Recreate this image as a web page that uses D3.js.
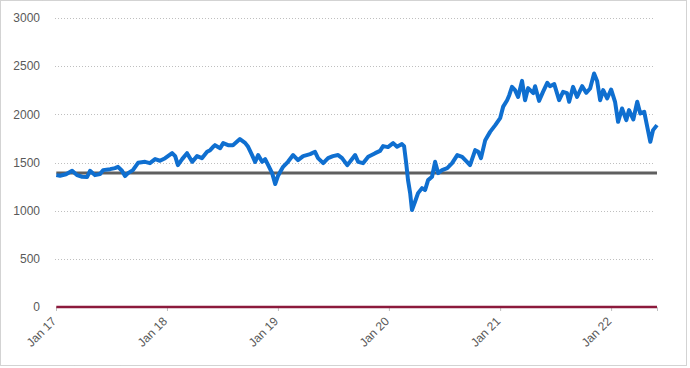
<!DOCTYPE html>
<html><head><meta charset="utf-8">
<script src="https://cdn.jsdelivr.net/npm/d3@7"></script>
<style>body{margin:0;background:#fff}svg{display:block}text{font-family:"Liberation Sans",Arial,sans-serif}</style>
</head><body><svg id="c" width="690" height="368"></svg>
<script>
const dates = ["2017-01-02","2017-01-14","2017-02-03","2017-02-23","2017-03-11","2017-03-28","2017-04-13","2017-04-23","2017-05-09","2017-05-26","2017-06-05","2017-06-28","2017-07-14","2017-07-24","2017-08-06","2017-08-16","2017-08-26","2017-09-11","2017-09-28","2017-10-21","2017-11-06","2017-11-23","2017-12-09","2017-12-26","2018-01-18","2018-01-28","2018-02-06","2018-02-20","2018-03-08","2018-03-25","2018-04-10","2018-04-26","2018-05-13","2018-05-23","2018-06-02","2018-06-08","2018-06-25","2018-07-05","2018-07-21","2018-08-06","2018-08-29","2018-09-15","2018-09-25","2018-10-08","2018-10-18","2018-10-28","2018-11-10","2018-11-20","2018-11-30","2018-12-13","2018-12-23","2019-01-01","2019-01-18","2019-02-03","2019-02-20","2019-03-08","2019-03-25","2019-04-17","2019-05-03","2019-05-13","2019-05-30","2019-06-15","2019-07-01","2019-07-18","2019-07-31","2019-08-17","2019-08-26","2019-09-12","2019-09-22","2019-10-08","2019-10-25","2019-11-17","2019-12-03","2019-12-13","2019-12-29","2020-01-15","2020-01-28","2020-02-13","2020-02-20","2020-02-27","2020-03-04","2020-03-11","2020-03-17","2020-03-27","2020-04-06","2020-04-19","2020-04-29","2020-05-09","2020-05-22","2020-06-01","2020-06-11","2020-06-24","2020-07-11","2020-07-27","2020-08-13","2020-08-29","2020-09-14","2020-09-24","2020-10-11","2020-10-21","2020-10-30","2020-11-13","2020-11-29","2020-12-16","2021-01-01","2021-01-11","2021-01-24","2021-01-31","2021-02-09","2021-02-19","2021-03-01","2021-03-14","2021-03-24","2021-04-03","2021-04-20","2021-04-26","2021-05-09","2021-05-22","2021-06-05","2021-06-14","2021-06-28","2021-07-14","2021-07-27","2021-08-09","2021-08-16","2021-08-29","2021-09-11","2021-09-28","2021-10-11","2021-10-24","2021-11-06","2021-11-16","2021-11-26","2021-12-06","2021-12-19","2022-01-01","2022-01-14","2022-01-24","2022-02-06","2022-02-20","2022-03-01","2022-03-15","2022-03-28","2022-04-07","2022-04-20","2022-04-30","2022-05-10","2022-05-19","2022-06-01"];
const values = [1369,1362,1378,1414,1369,1352,1349,1414,1369,1380,1421,1431,1442,1455,1414,1359,1390,1421,1497,1507,1493,1535,1518,1545,1597,1566,1473,1535,1597,1507,1566,1545,1611,1628,1663,1680,1649,1701,1680,1680,1743,1704,1663,1577,1507,1577,1507,1535,1473,1390,1276,1359,1455,1507,1577,1525,1566,1587,1611,1545,1493,1545,1566,1577,1545,1473,1507,1577,1507,1493,1559,1597,1621,1670,1660,1701,1663,1691,1670,1493,1317,1182,1006,1092,1182,1234,1214,1317,1352,1507,1390,1421,1442,1493,1577,1559,1507,1473,1628,1611,1545,1732,1818,1888,1960,2080,2147,2199,2285,2251,2181,2347,2147,2272,2220,2292,2140,2233,2327,2292,2313,2147,2233,2220,2130,2285,2181,2292,2223,2268,2424,2347,2147,2251,2165,2258,2130,1922,2061,1940,2044,1947,2130,2009,2026,1870,1715,1836,1888];
const thresholdValue = [1390];
const zeroValue = [0];
const yTicks = [0,500,1000,1500,2000,2500,3000];
const xTicks = ["2017-01-01","2018-01-01","2019-01-01","2020-01-01","2021-01-01","2022-01-01"];
const xTickLabels = ["Jan 17","Jan 18","Jan 19","Jan 20","Jan 21","Jan 22"];

const parse = d3.timeParse("%Y-%m-%d");
const series = dates.map((d,i)=>({date:parse(d), value:values[i]}));
const svg = d3.select("#c");
const L=56, R=657, T=18, B=307;
const x = d3.scaleTime().domain([parse("2017-01-01"), parse("2022-06-01")]).range([L,R]);
const y = d3.scaleLinear().domain([0,3000]).range([B,T]);

// outer border
svg.append("rect").attr("x",0.5).attr("y",0.5).attr("width",686).attr("height",365)
  .attr("fill","none").attr("stroke","#a6a6a6").attr("stroke-dasharray","1,1");

// gridlines
svg.append("g").selectAll("line").data(yTicks.filter(v=>v>0)).join("line")
  .attr("x1",L-1).attr("x2",R-2).attr("y1",d=>Math.round(y(d))+0.5).attr("y2",d=>Math.round(y(d))+0.5)
  .attr("stroke","#bfbfbf").attr("stroke-dasharray","1,2");

// y labels
svg.append("g").selectAll("text").data(yTicks).join("text")
  .attr("x",40).attr("y",d=>y(d)).attr("dy","0.35em").attr("text-anchor","end")
  .attr("font-size","12px").attr("fill","#595959").text(d=>d);

// x axis ticks
const xa = svg.append("g").attr("transform",`translate(0,${B})`)
  .call(d3.axisBottom(x).tickValues(xTicks.map(parse)).tickSize(4).tickFormat(""));
xa.select(".domain").attr("stroke","#bfbfbf");
xa.selectAll(".tick line").attr("stroke","#bfbfbf");
svg.append("g").selectAll("text").data(xTicks).join("text")
  .attr("transform",(d)=>`translate(${x(parse(d))+1},${B+15}) rotate(-45)`)
  .attr("text-anchor","end").attr("font-size","12px").attr("fill","#595959")
  .text((d,i)=>xTickLabels[i]);

const dStart = parse("2017-01-02"), dEnd = parse("2022-06-01");
const hline = d3.line().x(d=>x(d.date)).y(d=>y(d.value));
// zero line
svg.append("path").datum([{date:dStart,value:zeroValue[0]},{date:dEnd,value:zeroValue[0]}])
  .attr("d",hline).attr("stroke","#8c1a3c").attr("stroke-width",2.5).attr("fill","none");
// threshold line
svg.append("path").datum([{date:dStart,value:thresholdValue[0]},{date:dEnd,value:thresholdValue[0]}])
  .attr("d",hline).attr("stroke","#5f5f5f").attr("stroke-width",3).attr("fill","none");
// main series
svg.append("path").datum(series).attr("d",d3.line().x(d=>x(d.date)).y(d=>y(d.value)))
  .attr("stroke","#0f6fd0").attr("stroke-width",4).attr("fill","none").attr("stroke-linejoin","round");
</script></body></html>
